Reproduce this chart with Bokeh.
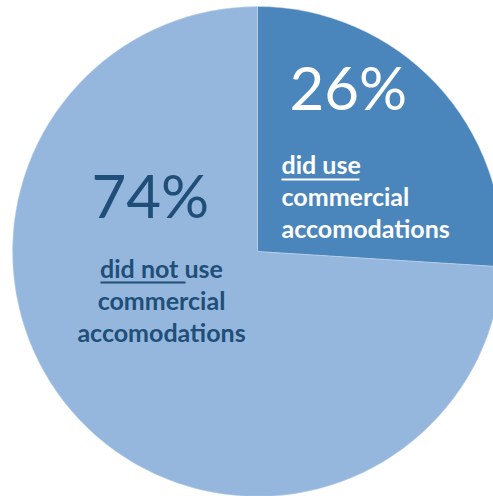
import numpy as np
from bokeh.plotting import figure
from bokeh.models import Range1d, ColumnDataSource
from bokeh.core.properties import value
from bokeh.embed import file_html
from bokeh.resources import INLINE

categories = ["did use commercial accomodations", "did not use commercial accomodations"]
shares = [26, 74]
pct_labels = ["26%", "74%"]
colors = ["#4A86BC", "#95B7DD"]

W, H = 493, 496
p = figure(width=W, height=H, output_backend="svg", toolbar_location=None,
           x_range=Range1d(0, W), y_range=Range1d(0, H), min_border=0)
p.axis.visible = False
p.grid.visible = False
p.outline_line_color = None
p.background_fill_color = "white"
p.border_fill_color = "white"

cx, cy, r = 257, 245, 245
frac = np.array(shares) / sum(shares)
ends = np.cumsum(frac) * 2 * np.pi
starts = np.concatenate([[0], ends[:-1]])
src = ColumnDataSource(dict(start=np.pi / 2 - starts, end=np.pi / 2 - ends,
                            color=colors, cat=categories))
p.wedge(x=cx, y=cy, radius=r, start_angle="start", end_angle="end",
        direction="clock", fill_color="color", line_color="#C9DAEE", line_width=0.8,
        line_alpha=0.6, source=src)

font = value("Lato")
dark = "#1F4E79"
BIG, SMALL = 60, 25

def yb(px, size):
    # convert a screen baseline (px from top) to data y, correcting render offset
    return H - (px - 0.4 * size)

# 26% slice labels
p.text(x=[289], y=[yb(110, BIG)], text=[pct_labels[0]], text_font=font,
       text_font_size=f"{BIG}px", text_color="white", text_baseline="alphabetic")
p.text(x=[281, 281, 281], y=[yb(173, SMALL), yb(205, SMALL), yb(237, SMALL)],
       text=["did use", "commercial", "accomodations"], text_font=font,
       text_font_size=f"{SMALL}px", text_font_style="bold", text_color="white",
       text_baseline="alphabetic")
p.segment(x0=[281], y0=[H - 179], x1=[359], y1=[H - 179], line_color="white", line_width=2)

# 74% slice labels
p.text(x=[91], y=[yb(218, BIG)], text=[pct_labels[1]], text_font=font,
       text_font_size=f"{BIG}px", text_color=dark, text_baseline="alphabetic")
p.text(x=[161, 161, 161], y=[yb(277, SMALL), yb(309, SMALL), yb(341, SMALL)],
       text=["did not use", "commercial", "accomodations"], text_font=font,
       text_font_size=f"{SMALL}px", text_font_style="bold", text_color=dark,
       text_baseline="alphabetic", text_align="center")
p.segment(x0=[100], y0=[H - 282], x1=[185], y1=[H - 282], line_color=dark, line_width=2)

open("out.html", "w").write(file_html(p, INLINE))
